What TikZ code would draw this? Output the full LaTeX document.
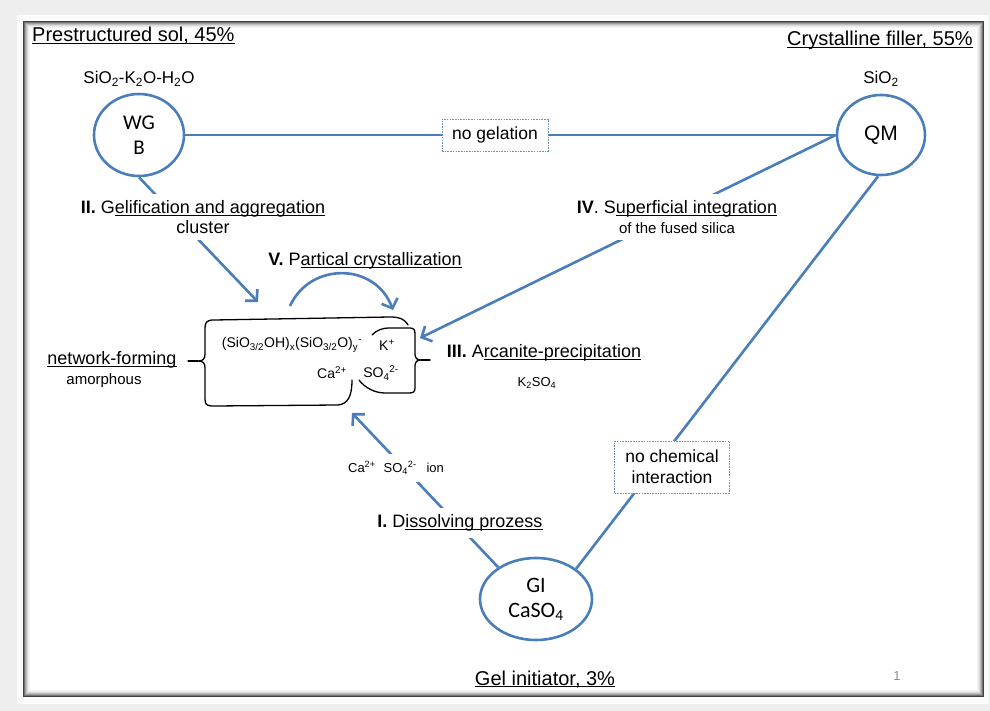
\documentclass[tikz,border=0pt]{standalone}
\usepackage{fontspec}
\setmainfont{Liberation Sans}
\newfontfamily\calibrifont{Carlito}
\newcommand{\uln}[1]{\leavevmode\setbox0=\hbox{#1}\rlap{\rule[-2.4pt]{\wd0}{1pt}}\box0}
\usetikzlibrary{shapes.geometric,arrows.meta}
\definecolor{bblue}{HTML}{4A7EBB}
\definecolor{dblue}{HTML}{6A93BD}
\definecolor{bgray}{HTML}{EEEEEE}
\tikzset{
  bl/.style={draw=bblue, line width=2.6pt},
  arr/.style={-{Straight Barb[length=8pt,width=17pt]}},
  circ/.style={ellipse, draw=bblue, line width=2.6pt, inner sep=0pt, align=center},
  dbox/.style={draw=dblue, line width=0.9pt, dash pattern=on 1.6pt off 1.1pt, fill=white, font=\fontsize{17.5}{21}\selectfont, inner sep=3pt},
  lab/.style={font=\fontsize{18}{20}\selectfont, align=center, inner sep=2pt},
  sm/.style={font=\fontsize{14}{16}\selectfont, inner sep=1pt},
  xs/.style={font=\fontsize{13}{15}\selectfont, inner sep=1pt},
  ttl/.style={font=\fontsize{20}{24}\selectfont, inner sep=0pt},
  frm/.style={font=\fontsize{17}{20}\selectfont, inner sep=0pt},
  brk/.style={draw=black, line width=1.3pt, line cap=round, line join=round}
}
\begin{document}
\begin{tikzpicture}[x=1pt,y=-1pt]
\useasboundingbox (0,0) rectangle (990,711);
% background and panel
\fill[bgray] (0,0) rectangle (990,711);
\fill[white!97!gray] (17,15) rectangle (989,704);
\fill[white] (23,21) rectangle (984,697);
\foreach \i/\c in {0/75,1/55,2/38,3/25,4/15,5/8,6/4}{
  \draw[black!\c, line width=1pt] (23.5+\i,21.5+\i) rectangle (983.5-\i,696.5-\i);
}
% titles
\node[ttl, anchor=base west] (t45) at (32,42) {\uln{Prestructured sol, 45\%}};
\node[ttl, anchor=base east] (t55) at (973,46) {\uln{Crystalline filler, 55\%}};
\node[ttl, anchor=base] (t3) at (545,685) {\uln{Gel initiator, 3\%}};
\node[frm, anchor=base] (fwg) at (139,84) {SiO\textsubscript{2}-K\textsubscript{2}O-H\textsubscript{2}O};
\node[frm, anchor=base] (fqm) at (881,84) {SiO\textsubscript{2}};
\node[font=\fontsize{13}{15}\selectfont, text=black!45] (pg) at (897,676) {1};
% main nodes
\node[circ, minimum width=90pt, minimum height=82pt, font=\calibrifont\fontsize{21}{25}\selectfont] (WG) at (139,135) {WG\\B};
\node[circ, minimum width=88pt, minimum height=80pt, font=\fontsize{21}{25}\selectfont] (QM) at (881,135) {QM};
\node[circ, minimum width=112pt, minimum height=82pt, font=\calibrifont\fontsize{22}{25}\selectfont] (GI) at (536,599) {GI\\CaSO\textsubscript{4}};
% arrow end points
\coordinate (t2) at (258,302);
\coordinate (t4) at (420,338);
\coordinate (t1) at (352,413);
\coordinate (v1) at (290,306);
\coordinate (v2) at (393,310);
% connectors
\draw[bl] (WG) -- (QM);
\draw[bl] (QM.266) -- (GI.37);
\draw[bl,arr] (WG.south) -- (t2);
\draw[bl,arr] (QM.west) -- (t4);
\draw[bl,arr] (GI.140) -- (t1);
\draw[bl,arr] (v1) .. controls (310,262) and (375,262) .. (v2);
% boxes on lines
\node[dbox, minimum width=106pt, minimum height=32pt] (gel) at (495,135) {no gelation};
\node[dbox, align=center, minimum width=115pt, minimum height=52pt] (nochem) at (672,467) {no chemical\\interaction};
% labels
\node[lab, fill=white, inner sep=6pt] (l2) at (203,217) {\textbf{II.} G\uln{elification and aggregation}\\cluster};
\node[lab, fill=white, inner sep=6pt] (l4) at (677,217) {\textbf{IV}. S\uln{uperficial integration}\\{\fontsize{15}{18}\selectfont of the fused silica}};
\node[lab] (l5) at (365,261) {\textbf{V.} P\uln{artical crystallization}};
\node[lab] (l3) at (544,353) {\textbf{III.} A\uln{rcanite-precipitation}};
\node[lab, fill=white, inner sep=7pt] (l1) at (460,523) {\textbf{I.} D\uln{issolving prozess}};
\node[lab] (nf) at (112,360) {\uln{network-forming}};
\node[font=\fontsize{15}{18}\selectfont, inner sep=1pt] (am) at (104,381) {amorphous};
\node[xs, fill=white, inner sep=8pt] (ion) at (396,468) {Ca\textsuperscript{2+}\hspace{8pt}SO\textsubscript{4}\textsuperscript{2-}\hspace{10pt}ion};
\node[xs] (k2so4) at (537,383) {K\textsubscript{2}SO\textsubscript{4}};
% bracket contents
\node[sm] (form) at (292,345) {(SiO\textsubscript{3/2}OH)\textsubscript{x}(SiO\textsubscript{3/2}O)\textsubscript{y}\textsuperscript{-}};
\node[sm] (kp) at (387,345) {K\textsuperscript{+}};
\node[sm] (ca) at (332,373) {Ca\textsuperscript{2+}};
\node[sm] (so4) at (381,373) {SO\textsubscript{4}\textsuperscript{2-}};
% brackets
\draw[brk] (408,325) .. controls (404,318) and (398,317) .. (390,317) -- (214,320)
  .. controls (207,320) and (205,322) .. (205,328) -- (205,354)
  .. controls (205,359) and (203,361) .. (198,361)
  .. controls (203,361) and (205,363) .. (205,368) -- (205,399)
  .. controls (205,405) and (207,406) .. (214,406) -- (338,405)
  .. controls (348,404) and (352,396) .. (352,380);
\draw[brk] (198,361) -- (188,361);
\draw[brk] (372,335) .. controls (377,330) and (382,328) .. (390,328) -- (410,328)
  .. controls (414,328) and (415,330) .. (415,334) -- (415,354)
  .. controls (415,358) and (417,360) .. (421,360)
  .. controls (417,360) and (415,362) .. (415,366) -- (415,388)
  .. controls (415,392) and (413,393) .. (409,393) -- (385,393)
  .. controls (375,393) and (365,388) .. (359,380);
\draw[brk] (421,360) -- (430,360);
\end{tikzpicture}
\end{document}
